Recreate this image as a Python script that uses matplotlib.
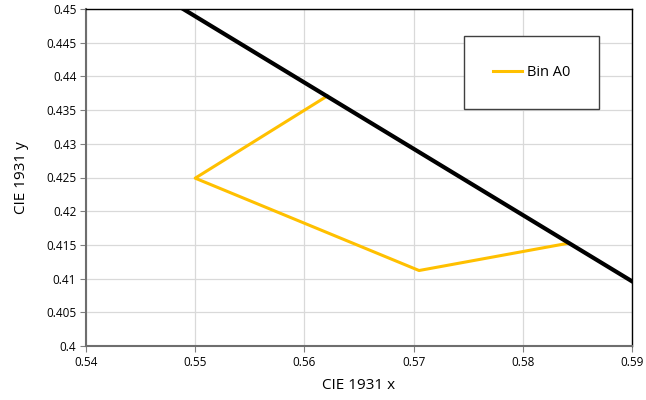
import matplotlib
matplotlib.use('Agg')
import matplotlib.pyplot as plt

plt.rcParams['font.family'] = ['Open Sans', 'DejaVu Sans']

# locus segment (black)
locus_x = [0.5489, 0.59]
locus_y = [0.45, 0.4096]

# bin A0 outline (yellow)
bin_x = [0.5621, 0.5500, 0.5705, 0.5840]
bin_y = [0.4371, 0.4249, 0.4112, 0.4152]

x_ticks = [0.54, 0.55, 0.56, 0.57, 0.58, 0.59]
y_ticks = [0.4, 0.405, 0.41, 0.415, 0.42, 0.425, 0.43, 0.435, 0.44, 0.445, 0.45]

fig = plt.figure(figsize=(6.46, 4.0), dpi=100)
ax = fig.add_axes([86 / 646, 1 - 346 / 400, (632 - 86) / 646, (346 - 9) / 400])

ax.plot(bin_x, bin_y, color='#FFC000', lw=2.2, label='Bin A0', zorder=3)
ax.plot(locus_x, locus_y, color='black', lw=3, zorder=4)

ax.set_xlim(0.54, 0.59)
ax.set_ylim(0.4, 0.45)
ax.set_xticks(x_ticks)
ax.set_xticklabels([f'{v:g}' for v in x_ticks])
ax.set_yticks(y_ticks)
ax.set_yticklabels([f'{v:g}' for v in y_ticks])
ax.grid(True, color='#D9D9D9', lw=0.9)
ax.set_axisbelow(True)
ax.tick_params(labelsize=8.5, length=4, color='#808080', pad=3)

for side in ['left', 'bottom']:
    ax.spines[side].set_color('#6E6E6E')
    ax.spines[side].set_linewidth(1.5)
for side in ['top', 'right']:
    ax.spines[side].set_color('black')
    ax.spines[side].set_linewidth(1.0)

ax.set_xlabel('CIE 1931 x', fontsize=11, labelpad=7)
ax.set_ylabel('CIE 1931 y', fontsize=11, labelpad=12)

handles, labels = ax.get_legend_handles_labels()
leg = ax.legend(handles, labels, loc='upper left', bbox_to_anchor=((464 - 86) / 546, (346 - 36) / 337),
                frameon=True, fancybox=False, fontsize=10.5, handlelength=2.0,
                borderpad=2.0, handletextpad=0.3, borderaxespad=0)
leg.get_frame().set_edgecolor('#404040')
leg.get_frame().set_linewidth(1.0)
leg.get_frame().set_alpha(1)

fig.savefig('out.png', dpi=100)
